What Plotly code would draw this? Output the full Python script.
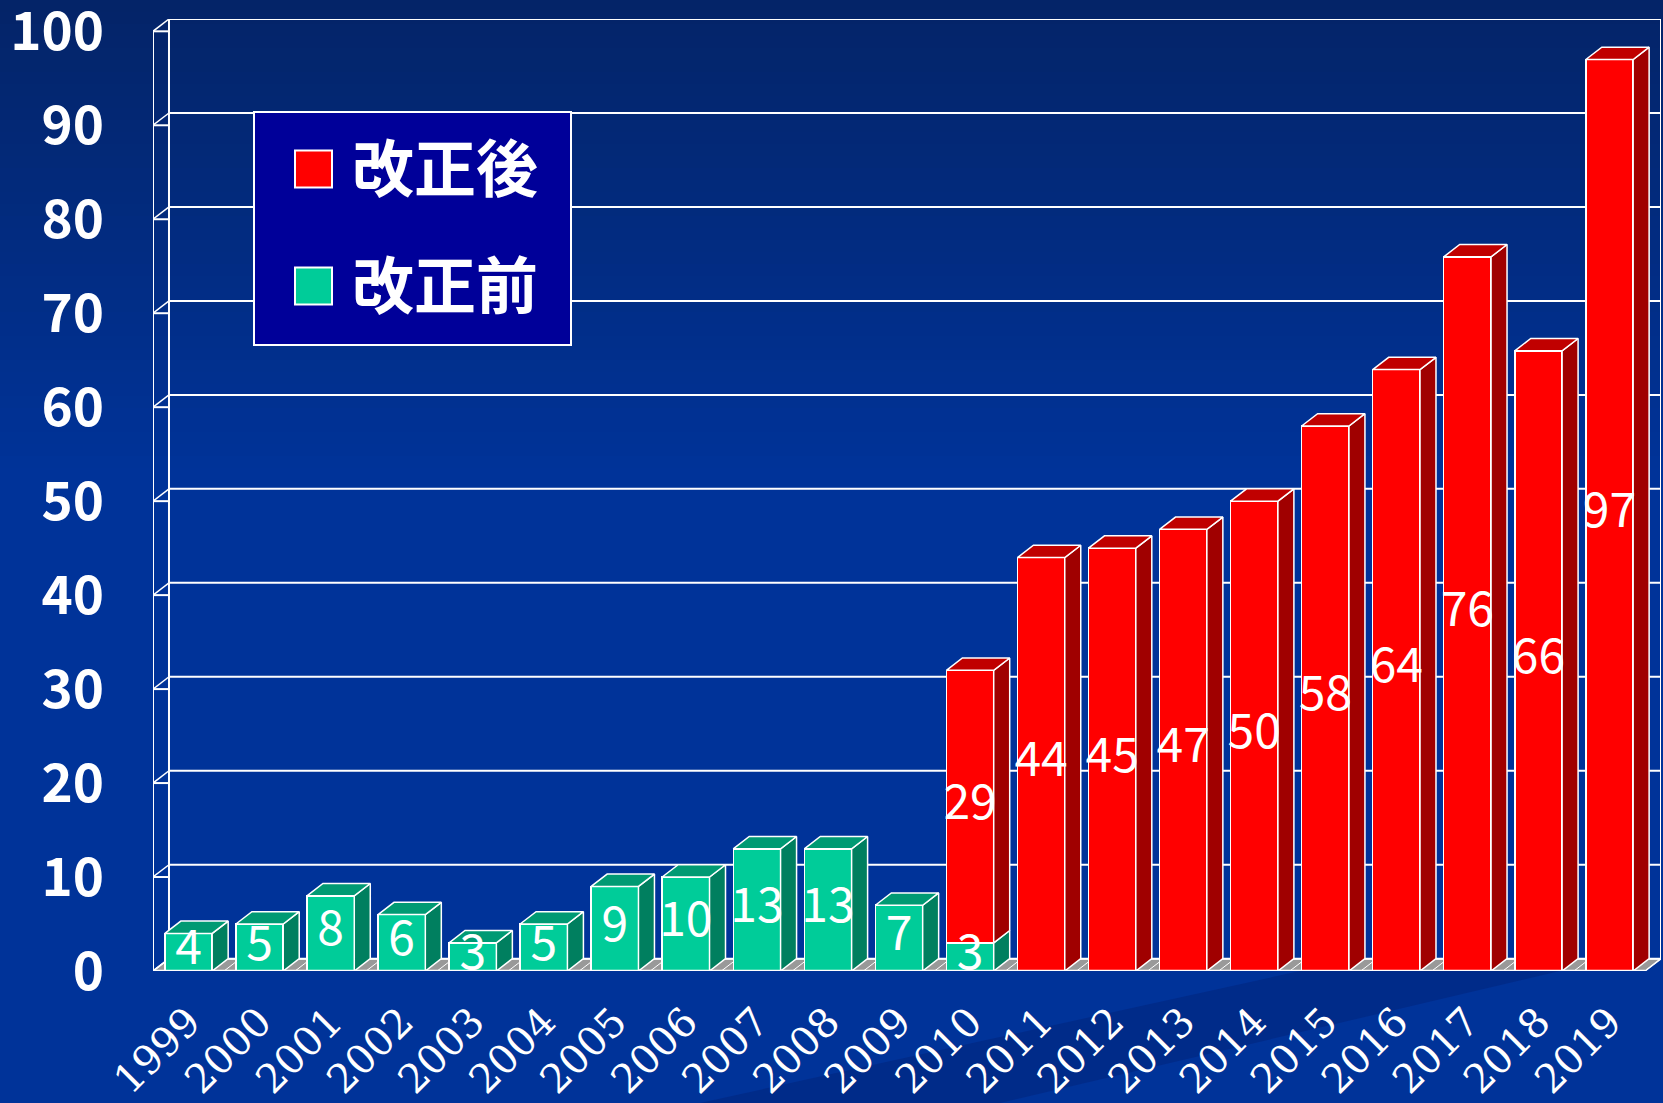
import plotly.graph_objects as go

# ---------------- data ----------------
years = ["1999", "2000", "2001", "2002", "2003", "2004", "2005", "2006", "2007", "2008",
         "2009", "2010", "2011", "2012", "2013", "2014", "2015", "2016", "2017", "2018", "2019"]
before = [4, 5, 8, 6, 3, 5, 9, 10, 13, 13, 7, 3, None, None, None, None, None, None, None, None, None]
after = [None, None, None, None, None, None, None, None, None, None, None, 29, 44, 45, 47, 50, 58, 64, 76, 66, 97]
y_ticks = [0, 10, 20, 30, 40, 50, 60, 70, 80, 90, 100]
legend_labels = ["改正後", "改正前"]

# ---------------- geometry / style ----------------
W_IMG, H_IMG = 1663, 1103
ML, MR, MT, MB = 153, 2, 19, 132
BW = 0.666          # bar width in category units
DX, DY = 0.225, 1.31  # 3-D depth offset (data units)
WHITE = "#FFFFFF"
G_FRONT, G_SIDE, G_TOP = "#00CC99", "#007F5F", "#009A73"
R_FRONT, R_SIDE, R_TOP = "#FF0000", "#A00000", "#C00000"
NUM_FONT = "Noto Sans CJK JP"

PW = W_IMG - ML - MR
PH = H_IMG - MT - MB


def px_x(px):
    return (px - ML) / PW


def px_y(py):
    return (H_IMG - MB - py) / PH


xs = list(range(len(years)))
fig = go.Figure()

# front faces
fig.add_trace(go.Bar(x=xs, y=before, width=BW, marker=dict(color=G_FRONT, line=dict(color=WHITE, width=1.5)),
                     showlegend=False, hoverinfo="skip"))
fig.add_trace(go.Bar(x=xs, y=after, width=BW, marker=dict(color=R_FRONT, line=dict(color=WHITE, width=1.5)),
                     showlegend=False, hoverinfo="skip"))

# side and top faces
segs = {"gs": ([], []), "gt": ([], []), "rs": ([], []), "rt": ([], [])}


def add_poly(key, pts):
    xl, yl = segs[key]
    for (a, b) in pts + [pts[0]]:
        xl.append(a)
        yl.append(b)
    xl.append(None)
    yl.append(None)


label_x, label_y, label_t = [], [], []
for i in xs:
    x0, x1 = i - BW / 2, i + BW / 2
    b = before[i] or 0
    a = after[i] or 0
    if b:
        add_poly("gs", [(x1, 0), (x1 + DX, DY), (x1 + DX, b + DY), (x1, b)])
        label_x.append(i); label_y.append(b / 2); label_t.append(str(b))
        if not a:
            add_poly("gt", [(x0, b), (x1, b), (x1 + DX, b + DY), (x0 + DX, b + DY)])
    if a:
        add_poly("rs", [(x1, b), (x1 + DX, b + DY), (x1 + DX, b + a + DY), (x1, b + a)])
        add_poly("rt", [(x0, b + a), (x1, b + a), (x1 + DX, b + a + DY), (x0 + DX, b + a + DY)])
        label_x.append(i); label_y.append(b + a / 2); label_t.append(str(a))

for key, col in [("gs", G_SIDE), ("gt", G_TOP), ("rs", R_SIDE), ("rt", R_TOP)]:
    xl, yl = segs[key]
    fig.add_trace(go.Scatter(x=xl, y=yl, mode="lines", fill="toself", fillcolor=col,
                             line=dict(color=WHITE, width=1.5), showlegend=False, hoverinfo="skip"))

fig.add_trace(go.Scatter(x=label_x, y=label_y, text=label_t, mode="text",
                         textfont=dict(color=WHITE, size=48, family=NUM_FONT),
                         showlegend=False, hoverinfo="skip"))

shapes = []
# background gradient (top darker)
n = 40
top_c = (4, 36, 104)
mid_c = (0, 51, 153)
for k in range(n):
    py0 = k * 480 / n
    py1 = (k + 1) * 480 / n + 1
    t = k / (n - 1)
    c = tuple(int(round(top_c[j] + (mid_c[j] - top_c[j]) * t)) for j in range(3))
    shapes.append(dict(type="rect", xref="paper", yref="paper", x0=-0.2, x1=1.2,
                       y0=px_y(py1), y1=px_y(py0), fillcolor="rgb(%d,%d,%d)" % c,
                       line=dict(width=0), layer="below"))
# subtle darker diagonal streak at bottom
shapes.append(dict(type="path", xref="paper", yref="paper",
                   path="M %f,%f L %f,%f L %f,%f L %f,%f Z" % (
                       px_x(1000), px_y(1103), px_x(1560), px_y(971), px_x(1300), px_y(971), px_x(700), px_y(1103)),
                   fillcolor="rgba(0,30,110,0.35)", line=dict(width=0), layer="below"))

# floor
x_left, x_right = -0.5, len(years) - 0.5
shapes.append(dict(type="path", xref="x", yref="y",
                   path="M %f,0 L %f,0 L %f,%f L %f,%f Z" % (x_left, x_right, x_right + DX, DY, x_left + DX, DY),
                   fillcolor="#999999", line=dict(color=WHITE, width=1.5), layer="below"))
for k in range(len(years) + 1):
    xb = x_left + k
    shapes.append(dict(type="line", xref="x", yref="y", x0=xb, y0=0, x1=xb + DX, y1=DY,
                       line=dict(color=WHITE, width=1), layer="below"))
# back-wall gridlines and left-wall ticks
for v in y_ticks:
    shapes.append(dict(type="line", xref="x", yref="y", x0=x_left + DX, y0=v + DY, x1=x_right + DX, y1=v + DY,
                       line=dict(color=WHITE, width=2), layer="below"))
    shapes.append(dict(type="line", xref="x", yref="y", x0=x_left, y0=v, x1=x_left + DX, y1=v,
                       line=dict(color=WHITE, width=2), layer="below"))
    shapes.append(dict(type="line", xref="x", yref="y", x0=x_left, y0=v, x1=x_left + DX, y1=v + DY,
                       line=dict(color=WHITE, width=1.5), layer="below"))
shapes.append(dict(type="line", xref="x", yref="y", x0=x_left, y0=0, x1=x_left, y1=100,
                   line=dict(color=WHITE, width=2), layer="below"))
shapes.append(dict(type="line", xref="x", yref="y", x0=x_left + DX, y0=DY, x1=x_left + DX, y1=100 + DY,
                   line=dict(color=WHITE, width=2), layer="below"))
shapes.append(dict(type="line", xref="x", yref="y", x0=x_right + DX, y0=DY, x1=x_right + DX, y1=100 + DY,
                   line=dict(color=WHITE, width=2), layer="below"))
shapes.append(dict(type="line", xref="x", yref="y", x0=x_left, y0=0, x1=x_right, y1=0,
                   line=dict(color=WHITE, width=2.5), layer="above"))

# legend box
shapes.append(dict(type="rect", xref="paper", yref="paper", x0=px_x(254), x1=px_x(571), y0=px_y(345), y1=px_y(112),
                   fillcolor="#000099", line=dict(color=WHITE, width=2), layer="above"))
annotations = []
for lab, col, cy in [(legend_labels[0], R_FRONT, 169), (legend_labels[1], G_FRONT, 286)]:
    shapes.append(dict(type="rect", xref="paper", yref="paper", x0=px_x(295), x1=px_x(332),
                       y0=px_y(cy + 18.5), y1=px_y(cy - 18.5), fillcolor=col,
                       line=dict(color=WHITE, width=2), layer="above"))
    annotations.append(dict(xref="paper", yref="paper", x=px_x(350), y=px_y(cy - 4), text=lab, showarrow=False,
                            xanchor="left", yanchor="middle",
                            font=dict(color=WHITE, size=62, family="Noto Sans CJK JP", weight="bold")))

fig.update_layout(
    width=W_IMG, height=H_IMG,
    margin=dict(l=ML, r=MR, t=MT, b=MB, pad=0, autoexpand=False),
    paper_bgcolor="rgb(0,51,153)",
    plot_bgcolor="rgba(0,0,0,0)",
    barmode="stack",
    showlegend=False,
    shapes=shapes,
    annotations=annotations,
    xaxis=dict(range=[x_left, x_right + DX], tickmode="array", tickvals=xs, ticktext=years,
               tickangle=-45, tickfont=dict(color=WHITE, size=40, family="DejaVu Serif"),
               showgrid=False, zeroline=False, showline=False, ticks="", ticklabelstandoff=18,
               ticklabeloverflow="allow", automargin=False),
    yaxis=dict(range=[0, 100 + DY], tickmode="array", tickvals=y_ticks,
               tickfont=dict(color=WHITE, size=53, family=NUM_FONT, weight="bold"),
               showgrid=False, zeroline=False, showline=False, ticks="", ticklabelstandoff=48,
               ticklabeloverflow="allow", automargin=False),
)

fig.write_html("out.html", include_plotlyjs=True, full_html=True,
               config={"displayModeBar": False},
               post_script="document.body.style.margin='0';document.body.style.overflow='hidden';")
